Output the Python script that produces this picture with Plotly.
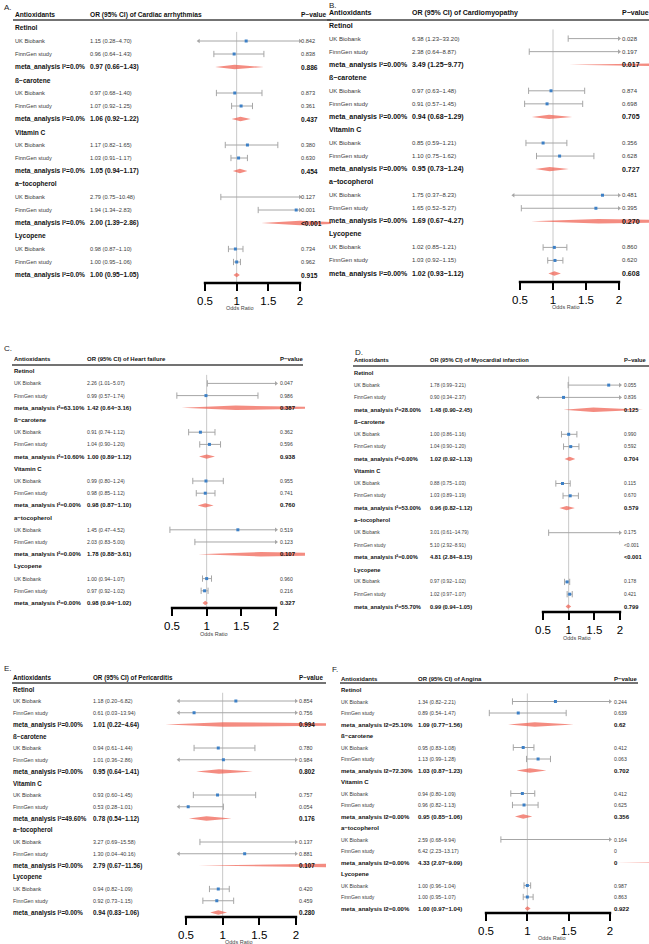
import plotly.graph_objects as go

W, H = 649, 944

antioxidants = ["Retinol", "ß−carotene", "Vitamin C", "a−tocopherol", "Lycopene"]
studies = ["UK Biobank", "FinnGen study"]
outcomes = ["Cardiac arrhythmias", "Cardiomyopathy", "Heart failure",
            "Myocardial infarction", "Pericarditis", "Angina"]
letters = ["A.", "B.", "C.", "D.", "E.", "F."]
tick_vals = [0.5, 1, 1.5, 2]
tick_text = ["0.5", "1", "1.5", "2"]

# 15 rows per panel: for each antioxidant -> UK Biobank, FinnGen study, meta_analysis
a_or = [1.15, 0.96, 0.97, 0.97, 1.07, 1.06, 1.17, 1.03, 1.05, 2.79, 1.94, 2.00, 0.98, 1.00, 1.00]
a_lo = [0.28, 0.64, 0.66, 0.68, 0.92, 0.92, 0.82, 0.91, 0.94, 0.75, 1.34, 1.39, 0.87, 0.95, 0.95]
a_hi = [4.70, 1.43, 1.43, 1.40, 1.25, 1.22, 1.65, 1.17, 1.17, 10.48, 2.83, 2.86, 1.10, 1.06, 1.05]
a_p = ["0.842", "0.838", "0.886", "0.873", "0.361", "0.437", "0.380", "0.630", "0.454",
       "0.127", "0.001", "<0.001", "0.734", "0.962", "0.915"]
a_i2 = ["I²=0.0%", "I²=0.0%", "I²=0.0%", "I²=0.0%", "I²=0.0%"]

b_or = [6.38, 2.38, 3.49, 0.97, 0.91, 0.94, 0.85, 1.10, 0.95, 1.75, 1.65, 1.69, 1.02, 1.03, 1.02]
b_lo = [1.23, 0.64, 1.25, 0.63, 0.57, 0.68, 0.59, 0.75, 0.73, 0.37, 0.52, 0.67, 0.85, 0.92, 0.93]
b_hi = [33.20, 8.87, 9.77, 1.48, 1.45, 1.29, 1.21, 1.62, 1.24, 8.23, 5.27, 4.27, 1.21, 1.15, 1.12]
b_p = ["0.028", "0.197", "0.017", "0.874", "0.698", "0.705", "0.356", "0.628", "0.727",
       "0.481", "0.395", "0.270", "0.860", "0.620", "0.608"]
b_i2 = ["I²=0.00%", "I²=0.00%", "I²=0.00%", "I²=0.00%", "I²=0.00%"]

c_or = [2.26, 0.99, 1.42, 0.91, 1.04, 1.00, 0.99, 0.98, 0.98, 1.45, 2.03, 1.78, 1.00, 0.97, 0.98]
c_lo = [1.01, 0.57, 0.64, 0.74, 0.90, 0.89, 0.80, 0.85, 0.87, 0.47, 0.83, 0.88, 0.94, 0.92, 0.94]
c_hi = [5.07, 1.74, 3.16, 1.12, 1.20, 1.12, 1.24, 1.12, 1.10, 4.52, 5.00, 3.61, 1.07, 1.02, 1.02]
c_p = ["0.047", "0.986", "0.387", "0.362", "0.596", "0.938", "0.955", "0.741", "0.760",
       "0.519", "0.123", "0.107", "0.960", "0.216", "0.327"]
c_i2 = ["I²=63.10%", "I²=10.60%", "I²=0.00%", "I²=0.00%", "I²=0.00%"]

d_or = [1.78, 0.90, 1.48, 1.00, 1.04, 1.02, 0.88, 1.03, 0.96, 3.01, 5.10, 4.81, 0.97, 1.02, 0.99]
d_lo = [0.99, 0.34, 0.90, 0.86, 0.90, 0.92, 0.75, 0.89, 0.82, 0.61, 2.92, 2.84, 0.92, 0.97, 0.94]
d_hi = [3.21, 2.37, 2.45, 1.16, 1.20, 1.13, 1.03, 1.19, 1.12, 14.79, 8.91, 8.15, 1.02, 1.07, 1.05]
d_p = ["0.055", "0.836", "0.125", "0.990", "0.592", "0.704", "0.115", "0.670", "0.579",
       "0.175", "<0.001", "<0.001", "0.178", "0.421", "0.799"]
d_i2 = ["I²=28.00%", "I²=0.00%", "I²=53.00%", "I²=0.00%", "I²=55.70%"]

e_or = [1.18, 0.61, 1.01, 0.94, 1.01, 0.95, 0.93, 0.53, 0.78, 3.27, 1.30, 2.79, 0.94, 0.92, 0.94]
e_lo = [0.20, 0.03, 0.22, 0.61, 0.36, 0.64, 0.60, 0.28, 0.54, 0.69, 0.04, 0.67, 0.82, 0.73, 0.83]
e_hi = [6.82, 13.94, 4.64, 1.44, 2.86, 1.41, 1.45, 1.01, 1.12, 15.58, 40.16, 11.56, 1.09, 1.15, 1.06]
e_p = ["0.854", "0.756", "0.994", "0.780", "0.984", "0.802", "0.757", "0.054", "0.176",
       "0.137", "0.881", "0.107", "0.420", "0.459", "0.280"]
e_i2 = ["I²=0.00%", "I²=0.00%", "I²=49.60%", "I²=0.00%", "I²=0.00%"]

f_or = [1.34, 0.89, 1.09, 0.95, 1.13, 1.03, 0.94, 0.96, 0.95, 2.59, 6.42, 4.33, 1.00, 1.00, 1.00]
f_lo = [0.82, 0.54, 0.77, 0.83, 0.99, 0.87, 0.80, 0.82, 0.85, 0.68, 2.23, 2.07, 0.96, 0.95, 0.97]
f_hi = [2.21, 1.47, 1.56, 1.08, 1.28, 1.23, 1.09, 1.13, 1.06, 9.94, 13.17, 9.09, 1.04, 1.07, 1.04]
f_p = ["0.244", "0.639", "0.62", "0.412", "0.063", "0.702", "0.412", "0.625", "0.356",
       "0.164", "0", "0", "0.987", "0.863", "0.922"]
f_i2 = ["I2=25.10%", "I2=72.30%", "I2=0.00%", "I2=0.00%", "I2=0.00%"]

panels = [
    (a_or, a_lo, a_hi, a_p, a_i2),
    (b_or, b_lo, b_hi, b_p, b_i2),
    (c_or, c_lo, c_hi, c_p, c_i2),
    (d_or, d_lo, d_hi, d_p, d_i2),
    (e_or, e_lo, e_hi, e_p, e_i2),
    (f_or, f_lo, f_hi, f_p, f_i2),
]

# pixel geometry of each panel (layout only)
geo = [
    dict(label=(2, 7), col1=13, col2=88, colp=299, p05=205, p2=300, y0=15, dy=13.0, yax=283,
         right=331, hl=(13, 331, 20), fs=0.96, odds=(236, 308)),
    dict(label=(327, 5), col1=327, col2=410, colp=620, p05=520, p2=619, y0=12.5, dy=13.05, yax=282,
         right=649, hl=(327, 649, 20), fs=1.02, odds=(562, 307)),
    dict(label=(2, 348), col1=12, col2=85, colp=278, p05=172, p2=276, y0=359, dy=12.2, yax=608,
         right=305, hl=(12, 303, 365), fs=0.87, odds=(210, 634)),
    dict(label=(353, 353), col1=352, col2=428, colp=622, p05=543, p2=620, y0=360.5, dy=12.3, yax=612,
         right=649, hl=(353, 649, 366), fs=0.83, odds=(573, 638)),
    dict(label=(2, 668), col1=11, col2=91, colp=297, p05=186, p2=296, y0=677.5, dy=11.75, yax=917,
         right=326, hl=(12, 326, 683), fs=0.91, odds=(235, 942)),
    dict(label=(330, 669), col1=339, col2=416, colp=612, p05=486, p2=610, y0=678.5, dy=11.5, yax=913,
         right=649, hl=(340, 638, 683), fs=0.87, odds=(548, 938)),
]

CLIP_LO, CLIP_HI = 0.4, 2.0
GRAY = "#a6a6a6"
BLUE = "#3d80c6"
RED = "rgba(240,96,80,0.72)"
FONT = "Liberation Sans, Arial, sans-serif"

fig = go.Figure()
annotations = []
shapes = []
axes = {}


def add_text(x, y, s, size, yref, bold=False, color="#3a3a3a"):
    annotations.append(dict(
        x=x / W, y=y if yref != "paper" else 1 - y / H, xref="paper", yref=yref,
        text=f"<b>{s}</b>" if bold else s, showarrow=False,
        xanchor="left", yanchor="middle", font=dict(size=size, color=color, family=FONT)))


for n, (g, d) in enumerate(zip(geo, panels), start=1):
    or_, lo_, hi_, p_, i2_ = d
    xa = "x" if n == 1 else f"x{n}"
    ya = "y" if n == 1 else f"y{n}"
    scale = (g["p2"] - g["p05"]) / 1.5
    px_left = g["p05"] - 0.4 * scale
    x_range = [0.5 + (px_left - g["p05"]) / scale, 0.5 + (g["right"] - g["p05"]) / scale]
    top_px = max(0.0, g["y0"] - g["dy"])
    y_bottom = (g["yax"] - g["y0"]) / g["dy"]
    y_top = (top_px - g["y0"]) / g["dy"]

    axes["xaxis" if n == 1 else f"xaxis{n}"] = dict(
        domain=[px_left / W, g["right"] / W], range=x_range, anchor=ya,
        tickvals=tick_vals, ticktext=tick_text, ticks="outside", ticklen=7, tickwidth=2.4,
        tickcolor="black", showline=False, showgrid=False, zeroline=False,
        tickfont=dict(size=11.5, color="black", family=FONT), fixedrange=True)
    axes["yaxis" if n == 1 else f"yaxis{n}"] = dict(
        domain=[1 - g["yax"] / H, 1 - top_px / H], range=[y_bottom, y_top],
        anchor=xa, visible=False, fixedrange=True)

    fs = g["fs"]
    sb, sr = 6.9 * fs, 5.9 * fs

    # header
    add_text(g["col1"], 0, "Antioxidants", sb, ya, bold=True, color="#111")
    add_text(g["col2"], 0, "OR (95% CI) of " + outcomes[n - 1], sb, ya, bold=True, color="#111")
    add_text(g["colp"], 0, "P−value", sb, ya, bold=True, color="#111")
    add_text(g["label"][0], g["label"][1], letters[n - 1], 8, "paper", color="#222")
    add_text(g["odds"][0] - 12, g["odds"][1], "Odds Ratio", 5.5, "paper", color="#444")
    shapes.append(dict(type="line", xref="paper", yref="paper",
                       x0=g["hl"][0] / W, x1=g["hl"][1] / W,
                       y0=1 - g["hl"][2] / H, y1=1 - g["hl"][2] / H,
                       line=dict(color="#444", width=1.3)))
    # axis line
    shapes.append(dict(type="line", xref="paper", yref="paper",
                       x0=(g["p05"] - 1.2) / W, x1=(g["p2"] + 1.2) / W,
                       y0=1 - g["yax"] / H, y1=1 - g["yax"] / H,
                       line=dict(color="black", width=2.4)))
    # reference line at OR = 1
    shapes.append(dict(type="line", xref=xa, yref=ya, x0=1, x1=1, y0=1.3, y1=y_bottom,
                       line=dict(color="#c8c8c8", width=1), layer="below"))

    wx, wy, cx, cy, lx, ly, rx, ry, mx, my = [], [], [], [], [], [], [], [], [], []
    dmx, dmy = [], []
    h = 2.2 / g["dy"]
    for gi, name in enumerate(antioxidants):
        add_text(g["col1"], 1 + 4 * gi, name, sb, ya, bold=True, color="#111")
    for k in range(15):
        gi, kind = divmod(k, 3)
        r = 2 + 4 * gi + kind
        ci = f"{or_[k]:.2f} ({lo_[k]:.2f}−{hi_[k]:.2f})"
        if kind < 2:
            add_text(g["col1"], r, studies[kind], sr, ya)
            add_text(g["col2"], r, ci, sr, ya)
            add_text(g["colp"], r, p_[k], sr, ya)
            lo, hi = max(lo_[k], CLIP_LO), min(hi_[k], CLIP_HI)
            if lo < hi:
                wx += [lo, hi, None]
                wy += [r, r, None]
                if lo_[k] < CLIP_LO:
                    lx.append(lo); ly.append(r)
                else:
                    cx.append(lo); cy.append(r)
                if hi_[k] > CLIP_HI:
                    rx.append(hi); ry.append(r)
                else:
                    cx.append(hi); cy.append(r)
            if CLIP_LO <= or_[k] <= CLIP_HI:
                mx.append(or_[k]); my.append(r)
        else:
            add_text(g["col1"], r, "meta_analysis " + i2_[gi], sb, ya, bold=True, color="#111")
            add_text(g["col2"], r, ci, sb, ya, bold=True, color="#111")
            add_text(g["colp"], r, p_[k], sb, ya, bold=True, color="#111")
            dmx += [lo_[k], or_[k], hi_[k], or_[k], lo_[k], None]
            dmy += [r, r - h, r, r + h, r, None]

    common = dict(xaxis=xa, yaxis=ya, showlegend=False, hoverinfo="skip")
    fig.add_trace(go.Scatter(x=dmx, y=dmy, mode="lines", fill="toself", fillcolor=RED,
                             line=dict(width=0, color=RED), **common))
    fig.add_trace(go.Scatter(x=wx, y=wy, mode="lines", line=dict(color=GRAY, width=1), **common))
    fig.add_trace(go.Scatter(x=cx, y=cy, mode="markers", cliponaxis=False,
                             marker=dict(symbol="line-ns", size=4.5, line=dict(color=GRAY, width=1)),
                             **common))
    fig.add_trace(go.Scatter(x=lx, y=ly, mode="markers", cliponaxis=False,
                             marker=dict(symbol="triangle-left", size=4, color=GRAY), **common))
    fig.add_trace(go.Scatter(x=rx, y=ry, mode="markers", cliponaxis=False,
                             marker=dict(symbol="triangle-right", size=4, color=GRAY), **common))
    fig.add_trace(go.Scatter(x=mx, y=my, mode="markers", cliponaxis=False,
                             marker=dict(symbol="square", size=3, color=BLUE), **common))

fig.update_layout(
    width=W, height=H, autosize=False,
    margin=dict(l=0, r=0, t=0, b=0),
    paper_bgcolor="white", plot_bgcolor="rgba(0,0,0,0)",
    font=dict(family=FONT),
    annotations=annotations, shapes=shapes,
    **axes,
)

# the page body has a default 8px margin; drop it so the figure fills the window
fig.write_html("out.html", config={"displayModeBar": False},
               post_script="document.body.style.margin='0';")
